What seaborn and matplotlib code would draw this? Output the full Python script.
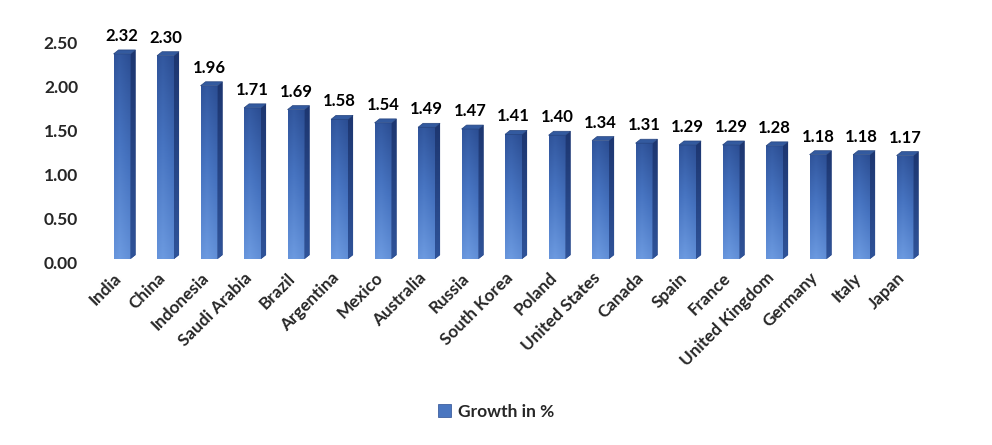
import numpy as np
import pandas as pd
import matplotlib
matplotlib.use("Agg")
import matplotlib.pyplot as plt
import matplotlib.transforms as mtransforms
from matplotlib.patches import Polygon, Patch
from matplotlib.colors import LinearSegmentedColormap
import seaborn as sns

# data
countries = ["India", "China", "Indonesia", "Saudi Arabia", "Brazil", "Argentina",
             "Mexico", "Australia", "Russia", "South Korea", "Poland", "United States",
             "Canada", "Spain", "France", "United Kingdom", "Germany", "Italy", "Japan"]
growth = [2.32, 2.30, 1.96, 1.71, 1.69, 1.58, 1.54, 1.49, 1.47, 1.41, 1.40,
          1.34, 1.31, 1.29, 1.29, 1.28, 1.18, 1.18, 1.17]
yticks = [0.0, 0.5, 1.0, 1.5, 2.0, 2.5]
series_name = "Growth in %"

df = pd.DataFrame({"Country": countries, "Growth": growth})

sns.set_theme(style="white")
plt.rcParams["font.family"] = ["Lato", "DejaVu Sans"]

fig = plt.figure(figsize=(9.92, 4.45), dpi=100)
ax = fig.add_axes([0.1011, 0.4090, 0.8332, 0.4966])

sns.barplot(data=df, x="Country", y="Growth", color="#3d66b0", width=0.39,
            ax=ax, saturation=1)

# fake 3d look: gradient front face, dark side face, top face
front_cmap = LinearSegmentedColormap.from_list("front", ["#6c9ae0", "#4673c0", "#2b4d92"])
side_cmap = LinearSegmentedColormap.from_list("side", ["#2f5399", "#1d3670"])
dx, dy = 0.115, 0.045
shift = ax.transData + mtransforms.ScaledTranslation(0, 0.04, fig.dpi_scale_trans)

vert = np.linspace(0, 1, 100)[:, None]
horiz = np.linspace(0, 1, 30)[None, :]
grad = vert * 0.85 + 0.15 * (np.abs(horiz - 0.35) / 0.65)

for bar in ax.patches:
    x0, w, h = bar.get_x(), bar.get_width(), bar.get_height()
    bar.set_transform(shift)
    bar.set_edgecolor("none")
    img = ax.imshow(grad, cmap=front_cmap, aspect="auto", origin="lower",
                    extent=[x0, x0 + w, 0, h], transform=shift, zorder=3)
    img.set_clip_path(bar)
    side = Polygon([[x0 + w, 0], [x0 + w + dx, dy], [x0 + w + dx, h + dy], [x0 + w, h]],
                   closed=True, facecolor="#223d7a", edgecolor="none",
                   transform=shift, zorder=3)
    ax.add_patch(side)
    simg = ax.imshow(vert, cmap=side_cmap, aspect="auto", origin="lower",
                     extent=[x0 + w, x0 + w + dx, 0, h + dy], transform=shift, zorder=3)
    simg.set_clip_path(side)
    top = Polygon([[x0, h], [x0 + dx, h + dy], [x0 + w + dx, h + dy], [x0 + w, h]],
                  closed=True, facecolor="#335a9f", edgecolor="#27457f", lw=0.5,
                  transform=shift, zorder=4)
    ax.add_patch(top)

# value labels
for i, v in enumerate(growth):
    ax.annotate(f"{v:.2f}", (i, v), xytext=(0, 10), textcoords="offset points",
                ha="center", va="bottom", fontsize=12, fontweight="bold", color="black")

ax.set_xlim(-0.5, len(countries) - 0.5)
ax.set_ylim(0, 2.5)
ax.set_yticks(yticks)
ax.set_yticklabels([f"{t:.2f}" for t in yticks], fontsize=12.5, fontweight="bold")
ax.tick_params(axis="y", length=0, pad=16)
ax.tick_params(axis="x", length=0, pad=9)
lab_shift = mtransforms.ScaledTranslation(-0.03, 0, fig.dpi_scale_trans)
for lab in ax.get_xticklabels():
    lab.set_rotation(45)
    lab.set_ha("right")
    lab.set_va("center")
    lab.set_rotation_mode("anchor")
    lab.set_fontsize(12.3)
    lab.set_fontweight("bold")
    lab.set_transform(lab.get_transform() + lab_shift)
ax.set_xlabel("")
ax.set_ylabel("")
sns.despine(ax=ax, left=True, bottom=True)

handle = Patch(facecolor="#4a76c0", edgecolor="#2b4d92", lw=0.5)
fig.legend([handle], [series_name], loc="center", bbox_to_anchor=(0.5, 0.075),
           frameon=False, handlelength=0.75, handleheight=0.75, handletextpad=0.4,
           prop={"weight": "bold", "size": 12.5})

fig.savefig("out.png", dpi=100)
